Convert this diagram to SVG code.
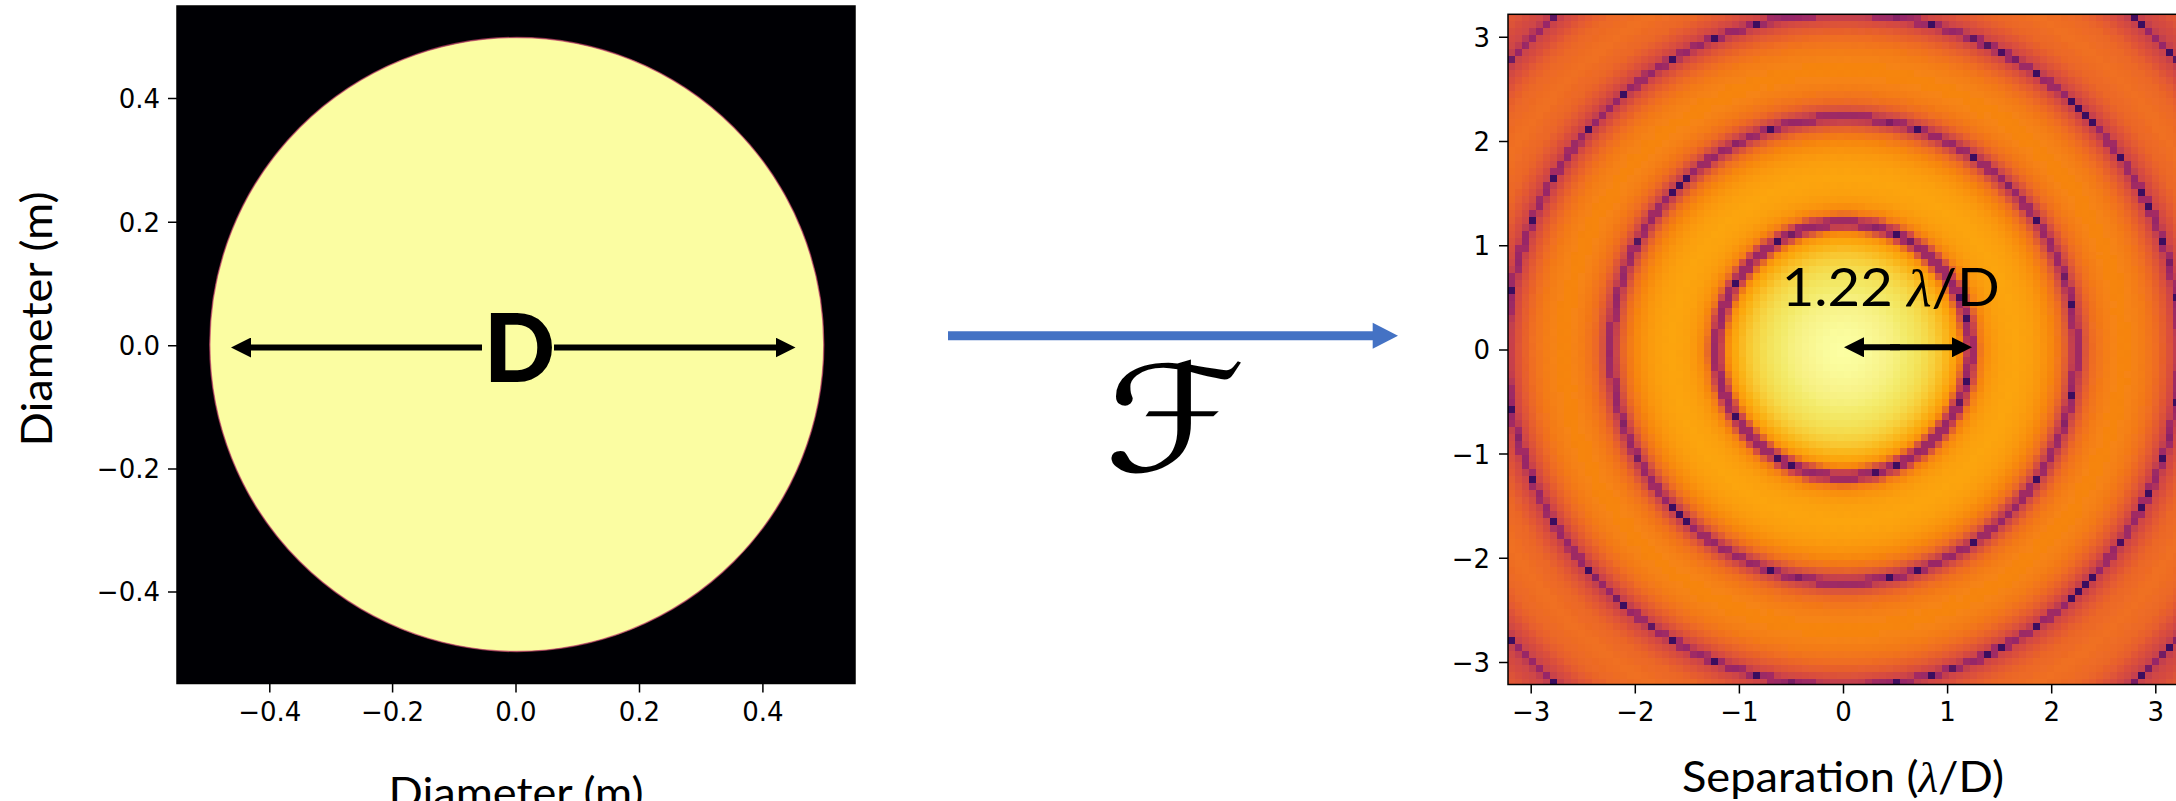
<svg xmlns="http://www.w3.org/2000/svg" width="2176" height="801" viewBox="0 0 2176 801">
  <defs>
    <!-- Airy pattern, log intensity through the inferno colour map; 1 λ/D = 104.1 px -->
    <radialGradient id="airy" gradientUnits="userSpaceOnUse" cx="1843.5" cy="349.9" r="520.5">
      <stop offset="0" stop-color="#fcffa4"/>
      <stop offset="0.04" stop-color="#fafb9b"/>
      <stop offset="0.08" stop-color="#f8f38a"/>
      <stop offset="0.10" stop-color="#f6f07e"/>
      <stop offset="0.12" stop-color="#f3eb6b"/>
      <stop offset="0.14" stop-color="#f3e45d"/>
      <stop offset="0.16" stop-color="#f5da4b"/>
      <stop offset="0.18" stop-color="#f8ca34"/>
      <stop offset="0.20" stop-color="#fab319"/>
      <stop offset="0.21" stop-color="#fca60b"/>
      <stop offset="0.22" stop-color="#fa9409"/>
      <stop offset="0.224" stop-color="#f6840f"/>
      <!-- first dark ring, r = 1.22 -->
      <stop offset="0.232" stop-color="#d04a46"/>
      <stop offset="0.2370" stop-color="#c03d50"/>
      <stop offset="0.2374" stop-color="#a32b63"/>
      <stop offset="0.2430" stop-color="#962767"/>
      <stop offset="0.2435" stop-color="#3a0a5e"/>
      <stop offset="0.2445" stop-color="#3a0a5e"/>
      <stop offset="0.2450" stop-color="#962767"/>
      <stop offset="0.2506" stop-color="#a32b63"/>
      <stop offset="0.2510" stop-color="#c03d50"/>
      <stop offset="0.256" stop-color="#d04a46"/>
      <stop offset="0.264" stop-color="#f47c16"/>
      <stop offset="0.28" stop-color="#fa9509"/>
      <stop offset="0.30" stop-color="#fba00a"/>
      <stop offset="0.33" stop-color="#fca50a"/>
      <stop offset="0.36" stop-color="#fb9f0a"/>
      <stop offset="0.38" stop-color="#fa9609"/>
      <stop offset="0.40" stop-color="#f7870e"/>
      <stop offset="0.42" stop-color="#ef6e21"/>
      <!-- second dark ring, r = 2.233 -->
      <stop offset="0.4346" stop-color="#d04a46"/>
      <stop offset="0.4396" stop-color="#c03d50"/>
      <stop offset="0.4400" stop-color="#a32b63"/>
      <stop offset="0.4456" stop-color="#962767"/>
      <stop offset="0.4461" stop-color="#3a0a5e"/>
      <stop offset="0.4471" stop-color="#3a0a5e"/>
      <stop offset="0.4476" stop-color="#962767"/>
      <stop offset="0.4532" stop-color="#a32b63"/>
      <stop offset="0.4536" stop-color="#c03d50"/>
      <stop offset="0.4586" stop-color="#d04a46"/>
      <stop offset="0.472" stop-color="#e9622b"/>
      <stop offset="0.48" stop-color="#ef6e21"/>
      <stop offset="0.50" stop-color="#f47c16"/>
      <stop offset="0.52" stop-color="#f68412"/>
      <stop offset="0.54" stop-color="#f68510"/>
      <stop offset="0.56" stop-color="#f58213"/>
      <stop offset="0.58" stop-color="#f37a18"/>
      <stop offset="0.60" stop-color="#ef6d22"/>
      <stop offset="0.62" stop-color="#e35932"/>
      <!-- third dark ring, r = 3.238 -->
      <stop offset="0.6356" stop-color="#d04546"/>
      <stop offset="0.6406" stop-color="#c03d50"/>
      <stop offset="0.6410" stop-color="#a32b63"/>
      <stop offset="0.6466" stop-color="#962767"/>
      <stop offset="0.6471" stop-color="#3a0a5e"/>
      <stop offset="0.6481" stop-color="#3a0a5e"/>
      <stop offset="0.6486" stop-color="#962767"/>
      <stop offset="0.6542" stop-color="#a32b63"/>
      <stop offset="0.6546" stop-color="#c03d50"/>
      <stop offset="0.6596" stop-color="#d04546"/>
      <stop offset="0.68" stop-color="#e25734"/>
      <stop offset="0.70" stop-color="#eb6628"/>
      <stop offset="0.74" stop-color="#f07022"/>
      <stop offset="0.78" stop-color="#ec6926"/>
      <stop offset="0.80" stop-color="#e75e2e"/>
      <stop offset="0.82" stop-color="#da4e3c"/>
      <!-- fourth dark ring, r = 4.241 -->
      <stop offset="0.8362" stop-color="#cd4548"/>
      <stop offset="0.8412" stop-color="#c03d50"/>
      <stop offset="0.8416" stop-color="#a32b63"/>
      <stop offset="0.8472" stop-color="#962767"/>
      <stop offset="0.8477" stop-color="#3a0a5e"/>
      <stop offset="0.8487" stop-color="#3a0a5e"/>
      <stop offset="0.8492" stop-color="#962767"/>
      <stop offset="0.8548" stop-color="#a32b63"/>
      <stop offset="0.8552" stop-color="#c03d50"/>
      <stop offset="0.8602" stop-color="#cd4548"/>
      <stop offset="0.88" stop-color="#d64b3f"/>
      <stop offset="0.92" stop-color="#e85f2d"/>
      <stop offset="1" stop-color="#ec6727"/>
    </radialGradient>
    <!-- nearest-neighbour sampling on a 7 px grid -->
    <filter id="pixelate" filterUnits="userSpaceOnUse" primitiveUnits="userSpaceOnUse" x="1508" y="14" width="672" height="672">
      <feFlood x="1511" y="17" width="1" height="1" flood-color="#000"/>
      <feComposite x="1508" y="14" width="7" height="7"/>
      <feTile result="grid"/>
      <feComposite in="SourceGraphic" in2="grid" operator="in"/>
      <feMorphology operator="dilate" radius="3"/>
    </filter>
    <clipPath id="psfClip">
      <rect x="1508" y="14.3" width="670" height="670.2"/>
    </clipPath>
    <marker id="head" markerUnits="userSpaceOnUse" viewBox="0 0 20 20" markerWidth="20" markerHeight="20" refX="1" refY="10" orient="auto">
      <path d="M0,0 L20,10 L0,20 Z" fill="#000"/>
    </marker>
  </defs>
  <style>
    .tick { font-family: "DejaVu Sans", sans-serif; font-size: 26px; fill: #000; }
    .ty { text-anchor: end; }
    .tx { text-anchor: middle; }
    .axlab { font-family: Lato, "Open Sans", sans-serif; font-size: 43px; fill: #000; }
    .mark { stroke: #000; stroke-width: 1.5; fill: none; }
    .frame { fill: none; stroke: #000; stroke-width: 1.5; }
    .dim { stroke: #000; stroke-width: 6; fill: none; marker-end: url(#head); }
    .lam { font-family: "Liberation Serif", serif; font-style: italic; }
  </style>

  <rect width="2176" height="801" fill="#ffffff"/>

  <!-- Pupil: circular aperture -->
  <g id="aperture-plot">
    <rect x="177" y="6" width="678" height="677.5" fill="#000004"/>
    <circle cx="516.8" cy="344.5" r="307" fill="#fbfda2" stroke="#c0406a" stroke-width="1.4" stroke-opacity="0.7"/>
    <rect class="frame" x="177" y="6" width="678" height="677.5"/>
    <line class="dim" x1="482" y1="347.5" x2="250" y2="347.5"/>
    <line class="dim" x1="554" y1="347.5" x2="776.5" y2="347.5"/>
    <text x="519.5" y="380.5" text-anchor="middle" font-family="Lato, 'Open Sans', sans-serif" font-weight="bold" font-size="92" stroke="#000" stroke-width="2">D</text>
    <!-- y ticks -->
    <path class="mark" d="M168,98.6H177M168,222.2H177M168,345.8H177M168,469H177M168,592H177"/>
    <text class="tick ty" x="160" y="108">0.4</text>
    <text class="tick ty" x="160" y="231.6">0.2</text>
    <text class="tick ty" x="160" y="355.2">0.0</text>
    <text class="tick ty" x="160" y="478.4">−0.2</text>
    <text class="tick ty" x="160" y="601.4">−0.4</text>
    <!-- x ticks -->
    <path class="mark" d="M269.8,683.5V692.5M392.6,683.5V692.5M516,683.5V692.5M639.5,683.5V692.5M762.9,683.5V692.5"/>
    <text class="tick tx" x="269.8" y="721">−0.4</text>
    <text class="tick tx" x="392.6" y="721">−0.2</text>
    <text class="tick tx" x="516" y="721">0.0</text>
    <text class="tick tx" x="639.5" y="721">0.2</text>
    <text class="tick tx" x="762.9" y="721">0.4</text>
    <text class="axlab" x="0" y="0" text-anchor="middle" transform="translate(51.5,319) rotate(-90)" textLength="255" lengthAdjust="spacingAndGlyphs">Diameter (m)</text>
    <text class="axlab" x="516" y="807.5" text-anchor="middle" textLength="255" lengthAdjust="spacingAndGlyphs">Diameter (m)</text>
  </g>

  <!-- Fourier transform step -->
  <g id="connectors">
    <line x1="948" y1="335.7" x2="1374" y2="335.7" stroke="#4472c4" stroke-width="9"/>
    <path d="M1372.7,322.7 L1398,335.7 L1372.7,348.7 Z" fill="#4472c4"/>
  </g>
  <g id="transform-label">
    <text x="1175" y="470.5" text-anchor="middle" font-family="'DejaVu Serif', 'DejaVu Sans', serif" font-size="148" textLength="142" lengthAdjust="spacingAndGlyphs">ℱ</text>
  </g>

  <!-- Focal plane: Airy pattern -->
  <g id="psf-plot">
    <g clip-path="url(#psfClip)">
      <rect x="1508" y="14" width="672" height="672" fill="url(#airy)" filter="url(#pixelate)"/>
    </g>
    <rect class="frame" x="1508" y="14.3" width="670" height="670.2"/>
    <text x="1781.7" y="306" font-family="Lato, 'Open Sans', sans-serif" font-size="52" textLength="218" lengthAdjust="spacingAndGlyphs">1.22 <tspan class="lam">λ</tspan>/D</text>
    <line class="dim" x1="1900" y1="347.3" x2="1863" y2="347.3"/>
    <line class="dim" x1="1890" y1="347.3" x2="1953" y2="347.3"/>
    <!-- y ticks -->
    <path class="mark" d="M1499,37.3H1508M1499,141.5H1508M1499,245.7H1508M1499,349.9H1508M1499,454.1H1508M1499,558.3H1508M1499,662.5H1508"/>
    <text class="tick ty" x="1490" y="46.7">3</text>
    <text class="tick ty" x="1490" y="150.9">2</text>
    <text class="tick ty" x="1490" y="255.1">1</text>
    <text class="tick ty" x="1490" y="359.3">0</text>
    <text class="tick ty" x="1490" y="463.5">−1</text>
    <text class="tick ty" x="1490" y="567.7">−2</text>
    <text class="tick ty" x="1490" y="671.9">−3</text>
    <!-- x ticks -->
    <path class="mark" d="M1531.2,684.5V693.5M1635.3,684.5V693.5M1739.4,684.5V693.5M1843.5,684.5V693.5M1947.6,684.5V693.5M2051.7,684.5V693.5M2155.8,684.5V693.5"/>
    <text class="tick tx" x="1531.2" y="721">−3</text>
    <text class="tick tx" x="1635.3" y="721">−2</text>
    <text class="tick tx" x="1739.4" y="721">−1</text>
    <text class="tick tx" x="1843.5" y="721">0</text>
    <text class="tick tx" x="1947.6" y="721">1</text>
    <text class="tick tx" x="2051.7" y="721">2</text>
    <text class="tick tx" x="2155.8" y="721">3</text>
    <text class="axlab" x="1843" y="792" text-anchor="middle" textLength="322" lengthAdjust="spacingAndGlyphs">Separation (<tspan class="lam">λ</tspan>/D)</text>
  </g>
</svg>
